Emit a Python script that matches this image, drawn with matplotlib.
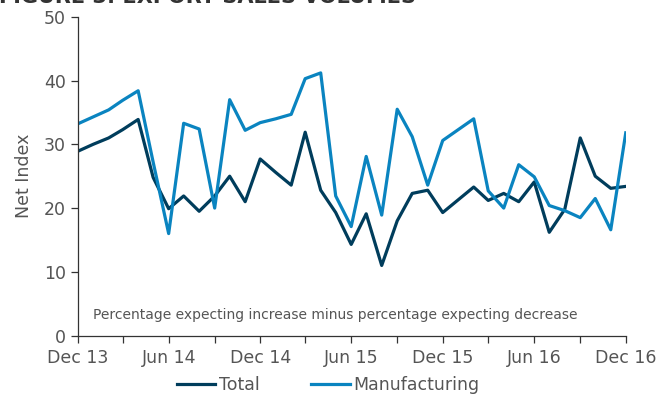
import numpy as np
import pandas as pd
import matplotlib
matplotlib.use('Agg')
import matplotlib.pyplot as plt
import matplotlib.dates as mdates

########################### Data ###########################
months = pd.date_range('2013-12-01', '2016-12-01', freq='MS')

total = [28.9, 30.0, 31.0, 32.3, 33.9, 24.8, 19.9, 21.9, 19.5, 21.9, 25.0, 21.0, 27.7,
         25.6, 23.6, 31.9, 22.8, 19.3, 14.3, 19.1, 11.0, 18.0, 22.3, 22.8, 19.3,
         21.3, 23.3, 21.2, 22.3, 21.0, 24.1, 16.2, 19.8, 31.0, 25.0, 23.1, 23.4]

manufacturing = [33.2, 34.3, 35.4, 36.9, 38.4, 27.2, 16.0, 33.3, 32.4, 20.0, 37.0, 32.2, 33.4,
                 34.0, 34.7, 40.3, 41.2, 21.9, 17.1, 28.1, 18.9, 35.5, 31.2, 23.6, 30.6,
                 32.3, 34.0, 22.7, 20.0, 26.8, 24.9, 20.4, 19.6, 18.5, 21.5, 16.6, 31.8]

yticks = [0, 10, 20, 30, 40, 50]

########################### Style ###########################
dark = '#003d5c'
light = '#0a84c0'
grey = '#555555'
plt.rcParams['font.family'] = ['DejaVu Sans']

fig = plt.figure(figsize=(6.58, 4.0), dpi=100)
ax = fig.add_axes([0.118, 0.161, 0.833, 0.797])

ax.plot(months, total, color=dark, lw=2.3, label='Total')
ax.plot(months, manufacturing, color=light, lw=2.3, label='Manufacturing')

ax.set_ylim(0, 50)
ax.set_yticks(yticks)
ax.set_xlim(months[0], months[-1])

# ticks every 3 months, labels every 6
tick_dates = months[::3]
ax.set_xticks(tick_dates)
ax.set_xticklabels([d.strftime('%b %y') if i % 2 == 0 else '' for i, d in enumerate(tick_dates)])

for s in ['top', 'right']:
    ax.spines[s].set_visible(False)
for s in ['left', 'bottom']:
    ax.spines[s].set_color('#333333')
    ax.spines[s].set_linewidth(0.9)
ax.tick_params(axis='both', colors='#333333', labelcolor=grey, labelsize=12.5, length=5, width=0.9)
ax.tick_params(axis='x', pad=5)

ax.set_ylabel('Net Index', color=grey, fontsize=12.5, labelpad=8)

ax.text(months[1], 3.3, 'Percentage expecting increase minus percentage expecting decrease',
        color=grey, fontsize=10, va='center', ha='left')

# title is cropped at the top of the reference picture
fig.text(-0.002, 1 - 3 / 400, 'FIGURE 3: EXPORT SALES VOLUMES', fontsize=15, fontweight='bold',
         color='#333333', va='baseline', ha='left')

leg = ax.legend(loc='center', bbox_to_anchor=(0.457, -0.155), ncol=2, frameon=False,
                fontsize=12.5, handlelength=2.2, handletextpad=0.2, columnspacing=3.0)
for t in leg.get_texts():
    t.set_color(grey)

fig.savefig('out.png', dpi=100)
